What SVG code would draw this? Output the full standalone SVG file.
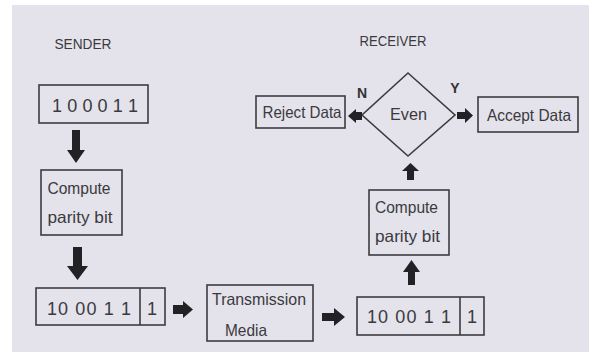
<svg xmlns="http://www.w3.org/2000/svg" width="589" height="355" viewBox="0 0 589 355">
<defs>
<style>
.box{fill:none;stroke:#3c3c40;stroke-width:1.6}
.t{font-family:"Liberation Sans",Arial,sans-serif;font-size:16.5px;fill:#3a3a3e;text-anchor:middle}
.d{font-family:"Liberation Sans",Arial,sans-serif;font-size:18px;fill:#3a3a3e;text-anchor:middle}
.h{font-family:"Liberation Sans",Arial,sans-serif;font-size:14px;fill:#3a3a3e;text-anchor:middle}
.lb{font-family:"Liberation Sans",Arial,sans-serif;font-size:14px;font-weight:bold;fill:#333;text-anchor:middle}
.arr{fill:#222226}
</style>
</defs>
<rect x="0" y="0" width="589" height="355" fill="#ffffff"/>
<rect x="12" y="5" width="577" height="347" fill="#e4e2ea"/>
<text class="h" x="83" y="49" textLength="57" lengthAdjust="spacingAndGlyphs">SENDER</text>
<text class="h" x="393" y="46" textLength="67" lengthAdjust="spacingAndGlyphs">RECEIVER</text>
<g id="data1"><rect class="box" x="39" y="85" width="109" height="38"/><text class="d" x="95" y="112" textLength="86" lengthAdjust="spacing">1 0 0 0 1 1</text></g>
<g id="parity1"><rect class="box" x="41" y="170" width="81" height="65"/><text class="t" x="79" y="194" textLength="63" lengthAdjust="spacingAndGlyphs">Compute</text><text class="t" x="80" y="223" textLength="65" lengthAdjust="spacingAndGlyphs">parity bit</text></g>
<g id="data2"><rect class="box" x="36" y="288" width="129" height="37"/><line class="box" x1="140" y1="288" x2="140" y2="325"/><text class="d" x="89" y="315" textLength="84" lengthAdjust="spacing">10 00 1 1</text><text class="d" x="152" y="315">1</text></g>
<g id="media"><rect class="box" x="207" y="285" width="106" height="56"/><text class="t" x="259" y="305" textLength="94" lengthAdjust="spacingAndGlyphs">Transmission</text><text class="t" x="246" y="336" textLength="42" lengthAdjust="spacingAndGlyphs">Media</text></g>
<g id="data3"><rect class="box" x="357" y="297" width="127" height="38"/><line class="box" x1="460" y1="297" x2="460" y2="335"/><text class="d" x="409" y="323" textLength="84" lengthAdjust="spacing">10 00 1 1</text><text class="d" x="472" y="323">1</text></g>
<g id="parity2"><rect class="box" x="369" y="190" width="80" height="65"/><text class="t" x="406.5" y="213" textLength="63" lengthAdjust="spacingAndGlyphs">Compute</text><text class="t" x="407.5" y="242" textLength="65" lengthAdjust="spacingAndGlyphs">parity bit</text></g>
<g id="even"><polygon class="box" points="408,73 455,115 408,156 362,115"/><text class="t" x="408.5" y="120" textLength="37" lengthAdjust="spacingAndGlyphs">Even</text></g>
<g id="reject"><rect class="box" x="256" y="96" width="89" height="32"/><text class="t" x="302" y="118" textLength="79" lengthAdjust="spacingAndGlyphs">Reject Data</text></g>
<g id="accept"><rect class="box" x="478" y="97" width="100" height="35"/><text class="t" x="529" y="121" textLength="84" lengthAdjust="spacingAndGlyphs">Accept Data</text></g>
<text class="lb" x="362" y="98">N</text>
<text class="lb" x="455" y="93">Y</text>
<g id="connectors">
<polygon class="arr" points="72,130 80,130 80,150 85,150 76,163 67,150 72,150"/>
<polygon class="arr" points="73,247 82,247 82,266 88,266 77.5,280 67,266 73,266"/>
<polygon class="arr" points="173,305 183,305 183,301 193,309.5 183,318 183,314 173,314"/>
<polygon class="arr" points="322,313 334,313 334,308 345,317 334,326 334,321 322,321"/>
<polygon class="arr" points="408,285 415,285 415,272 420,272 411.5,260 403,272 408,272"/>
<polygon class="arr" points="407,180 414,180 414,171 419,171 410.5,163 402,171 407,171"/>
<polygon class="arr" points="362,112 356,112 356,109 348,116 356,123 356,120 362,120"/>
<polygon class="arr" points="457,112 465,112 465,108 473,115.5 465,123 465,119 457,119"/>
</g>
</svg>
